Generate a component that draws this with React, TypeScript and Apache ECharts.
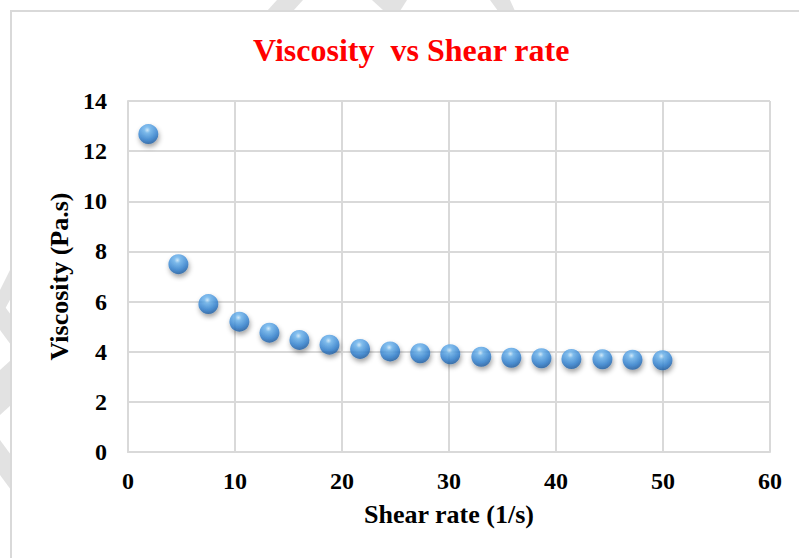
import React, { useEffect, useRef } from "react";
import * as echarts from "echarts";

const shearRate = [1.9, 4.71, 7.51, 10.41, 13.22, 16.02, 18.83, 21.69, 24.5, 27.31, 30.12, 33.02, 35.83, 38.64, 41.44, 44.34, 47.15, 49.95];
const viscosity = [12.68, 7.49, 5.9, 5.2, 4.76, 4.47, 4.28, 4.11, 4.01, 3.94, 3.9, 3.8, 3.76, 3.74, 3.71, 3.7, 3.68, 3.66];
const titleText = "Viscosity  vs Shear rate";
const xName = "Shear rate (1/s)";
const yName = "Viscosity (Pa.s)";

const FONT = "'Liberation Serif', 'Times New Roman', serif";
const WM = "#e2e2e2";

export default function App() {
  const ref = useRef<HTMLDivElement>(null);
  useEffect(() => {
    if (!ref.current) return;
    const chart = echarts.init(ref.current, null, { renderer: "svg" });
    const data = shearRate.map((x, i) => [x, viscosity[i]]);
    chart.setOption({
      animation: false,
      backgroundColor: "#ffffff",
      title: {
        text: titleText,
        left: 248,
        top: 29,
        textStyle: { color: "#ff0000", fontFamily: FONT, fontWeight: "bold", fontSize: 32 },
      },
      graphic: [
        { type: "polygon", z: -20, shape: { points: [[277, 0], [303, 0], [293, 11], [267, 11]] }, style: { fill: WM } },
        { type: "polygon", z: -20, shape: { points: [[372, 0], [407, 0], [400, 11], [384, 11]] }, style: { fill: WM } },
        { type: "polygon", z: -20, shape: { points: [[490, 0], [510, 0], [515, 11], [498, 11]] }, style: { fill: WM } },
        { type: "polygon", z: -20, shape: { points: [[0, 290], [11, 268], [11, 298], [0, 318]] }, style: { fill: WM } },
        { type: "polygon", z: -20, shape: { points: [[0, 300], [11, 315], [11, 345], [0, 330]] }, style: { fill: WM } },
        { type: "polygon", z: -20, shape: { points: [[0, 370], [11, 360], [11, 405], [0, 415]] }, style: { fill: WM } },
        { type: "polygon", z: -20, shape: { points: [[0, 440], [11, 455], [11, 490], [0, 475]] }, style: { fill: WM } },
        { type: "rect", z: -10, shape: { x: 11, y: 11, width: 800, height: 560 }, style: { fill: "#ffffff", stroke: "#d9d9d9", lineWidth: 2 } },
      ],
      grid: { left: 128, right: 29, top: 101, bottom: 106, containLabel: false },
      xAxis: {
        type: "value",
        min: 0,
        max: 60,
        interval: 10,
        name: xName,
        nameLocation: "middle",
        nameGap: 49,
        nameTextStyle: { color: "#000", fontFamily: FONT, fontWeight: "bold", fontSize: 26 },
        axisLine: { show: true, lineStyle: { color: "#d9d9d9", width: 2 } },
        axisTick: { show: false },
        axisLabel: { color: "#000", fontFamily: FONT, fontWeight: "bold", fontSize: 24, margin: 17 },
        splitLine: { show: true, lineStyle: { color: "#d9d9d9", width: 2 } },
      },
      yAxis: {
        type: "value",
        min: 0,
        max: 14,
        interval: 2,
        name: yName,
        nameLocation: "middle",
        nameGap: 56,
        nameTextStyle: { color: "#000", fontFamily: FONT, fontWeight: "bold", fontSize: 26 },
        axisLine: { show: true, lineStyle: { color: "#d9d9d9", width: 2 } },
        axisTick: { show: false },
        axisLabel: { color: "#000", fontFamily: FONT, fontWeight: "bold", fontSize: 24, margin: 21 },
        splitLine: { show: true, lineStyle: { color: "#d9d9d9", width: 2 } },
      },
      series: [
        {
          type: "scatter",
          data,
          symbol: "circle",
          symbolSize: 20,
          itemStyle: {
            color: {
              type: "radial",
              x: 0.45,
              y: 0.3,
              r: 0.75,
              colorStops: [
                { offset: 0, color: "#d0ecff" },
                { offset: 0.2, color: "#6db6f0" },
                { offset: 0.65, color: "#3383d2" },
                { offset: 1, color: "#1b5596" },
              ],
            },
            shadowBlur: 5,
            shadowOffsetX: 1,
            shadowOffsetY: 3,
            shadowColor: "rgba(0,0,0,0.45)",
          },
        },
      ],
    });
    return () => chart.dispose();
  }, []);
  return <div ref={ref} style={{ width: 799, height: 558, position: "absolute", left: 0, top: 0 }} />;
}
